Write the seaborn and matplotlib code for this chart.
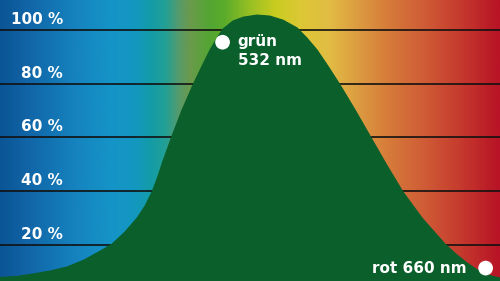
import numpy as np
import matplotlib
matplotlib.use("Agg")
import matplotlib.pyplot as plt
from matplotlib.colors import LinearSegmentedColormap
import seaborn as sns

# ---- data ----
wavelength_nm = [423.7, 432.0, 439.8, 448.0, 456.3, 464.6, 472.4, 478.2, 484.5, 490.4,
                 494.3, 497.7, 500.6, 503.0, 505.5, 507.4, 512.3, 517.6, 522.0, 525.9,
                 529.3, 532.2, 537.1, 542.0, 548.8, 555.1, 561.4, 568.3, 573.1, 578.0,
                 583.3, 589.2, 596.5, 603.8, 611.6, 619.8, 629.1, 640.3, 645.6, 651.0,
                 655.4, 658.8, 663.2, 667.0]
sensitivity_pct = [7.9, 8.3, 9.2, 10.3, 11.8, 14.4, 17.7, 20.3, 24.8, 30.0,
                   34.5, 39.7, 45.6, 51.2, 56.4, 60.5, 70.2, 79.5, 86.5, 92.5,
                   96.9, 100.3, 103.3, 104.7, 105.5, 105.1, 103.6, 100.7, 96.9, 92.5,
                   86.5, 79.5, 70.2, 60.5, 50.1, 39.7, 30.0, 20.3, 16.6, 13.3,
                   11.0, 9.6, 8.4, 7.7]
grid_levels = [20, 40, 60, 80, 100]
grid_labels = ["20 %", "40 %", "60 %", "80 %", "100 %"]
marker_nm = [532, 660]
marker_pct = [95.4, 11.4]
marker_labels = ["grün", "rot 660 nm"]
marker_sublabel = "532 nm"

# ---- style ----
sns.set_theme(style="white")
plt.rcParams['font.family'] = ['DejaVu Sans']

XMIN, XMAX = 423.7, 667.0
YMIN, YMAX = 6.6, 111.1
curve_color = "#0b5f2b"

stops = [(0.00, "#0b5595"), (0.05, "#1164a6"), (0.15, "#1583bf"), (0.22, "#1594c8"),
         (0.27, "#1398bf"), (0.30, "#139ca8"), (0.33, "#22a095"), (0.36, "#5a9a68"),
         (0.38, "#6a9a4c"), (0.42, "#52a632"), (0.45, "#5cac2a"), (0.50, "#98c024"),
         (0.55, "#c8cc20"), (0.60, "#dcc834"), (0.66, "#e2bc44"), (0.72, "#dc9a40"),
         (0.78, "#d67a3a"), (0.85, "#cf5c36"), (0.92, "#c63c2e"), (1.00, "#b81426")]
cmap = LinearSegmentedColormap.from_list("spec", stops)

fig = plt.figure(figsize=(5.0, 2.81), dpi=100)
ax = fig.add_axes([0, 0, 1, 1])
ax.set_xlim(XMIN, XMAX)
ax.set_ylim(YMIN, YMAX)
ax.axis("off")

grad = np.linspace(0, 1, 600).reshape(1, -1)
ax.imshow(grad, cmap=cmap, extent=(XMIN, XMAX, YMIN, YMAX), aspect="auto",
          origin="lower", zorder=0, interpolation="bicubic")

for lvl, lab in zip(grid_levels, grid_labels):
    ax.axhline(lvl, color="#111111", alpha=0.85, lw=1.4, zorder=1)
    ax.annotate(lab, xy=(454.4, lvl), xytext=(0, 4.3), textcoords="offset points",
                ha="right", va="baseline", color="white", fontsize=11,
                fontweight="bold", zorder=5)

ax.fill_between(wavelength_nm, sensitivity_pct, 0, color=curve_color, lw=0, zorder=2)
sns.lineplot(x=wavelength_nm, y=sensitivity_pct, color=curve_color, lw=0.8, ax=ax,
             zorder=3, legend=False)

sns.scatterplot(x=marker_nm, y=marker_pct, s=112, color="white", edgecolor="none",
                ax=ax, zorder=6, legend=False)

ax.annotate(marker_labels[0], xy=(marker_nm[0], marker_pct[0]), xytext=(10.8, -2.9),
            textcoords="offset points", ha="left", va="baseline", color="white",
            fontsize=11, fontweight="bold", zorder=7)
ax.annotate(marker_sublabel, xy=(marker_nm[0], marker_pct[0]), xytext=(10.8, -16.6),
            textcoords="offset points", ha="left", va="baseline", color="white",
            fontsize=11, fontweight="bold", zorder=7)
ax.annotate(marker_labels[1], xy=(marker_nm[1], marker_pct[1]), xytext=(-13.7, -3.4),
            textcoords="offset points", ha="right", va="baseline", color="white",
            fontsize=11, fontweight="bold", zorder=7)

ax.set_xlabel("")
ax.set_ylabel("")
fig.savefig("out.png", dpi=100)
